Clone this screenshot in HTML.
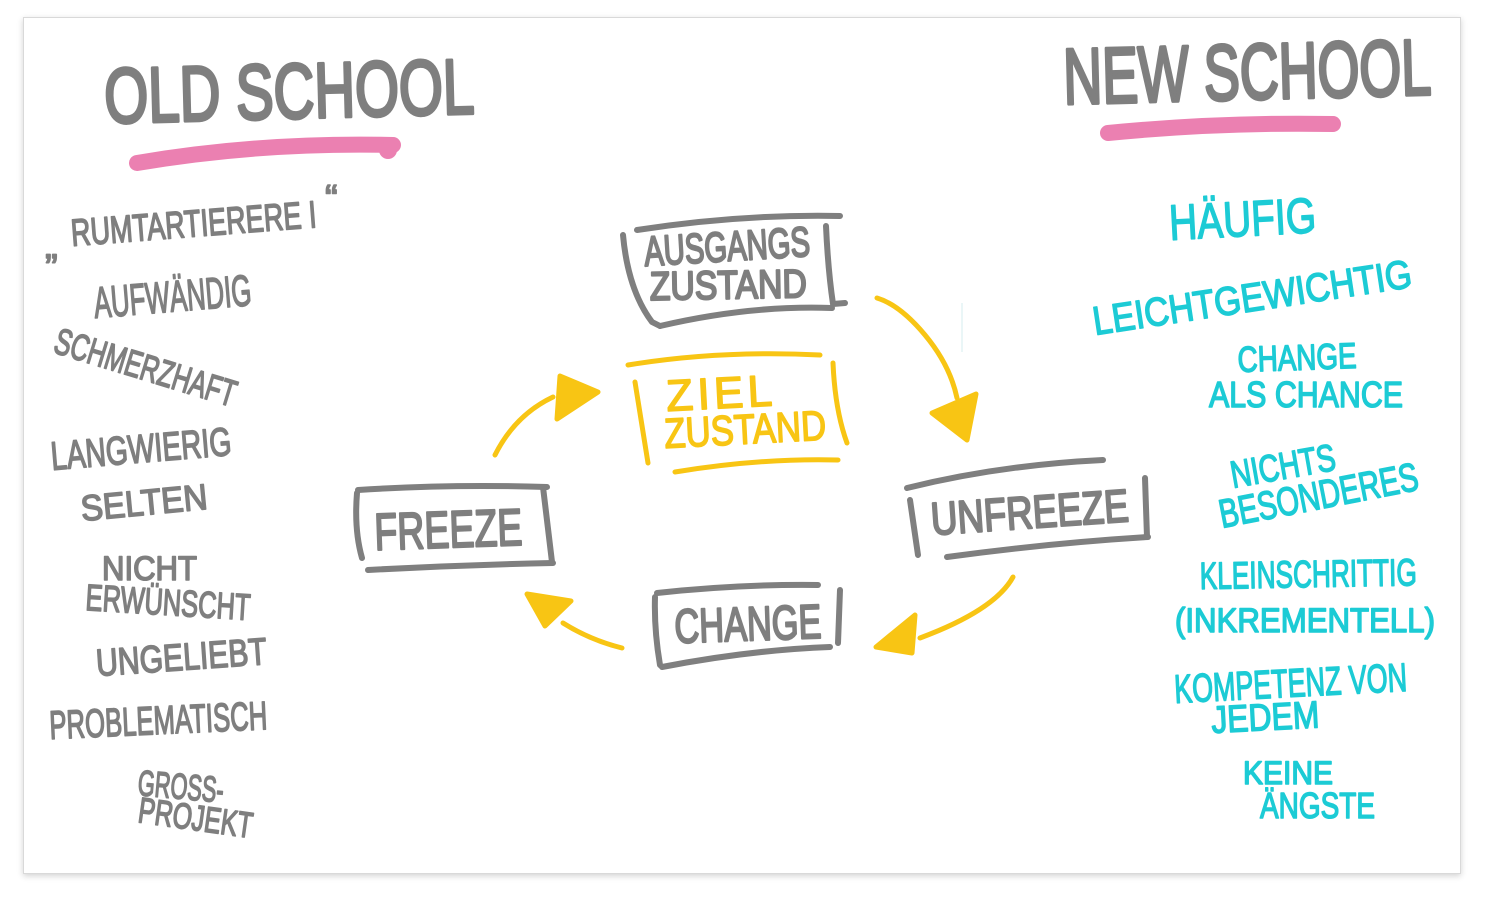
<!DOCTYPE html>
<html>
<head>
<meta charset="utf-8">
<style>
  html,body{margin:0;padding:0;background:#ffffff;}
  body{width:1492px;height:904px;position:relative;overflow:hidden;}
  .card{position:absolute;left:23px;top:17px;width:1436px;height:855px;background:#fff;border:1px solid #d9d9d9;box-shadow:0 2px 6px rgba(0,0,0,0.18);}
  svg{position:absolute;left:0;top:0;}
  text{font-family:"Liberation Sans",sans-serif;font-weight:normal;stroke-linejoin:round;stroke-linecap:round;}
  .g{fill:#7f7f7f;stroke:#7f7f7f;stroke-width:1.6;}
  .gh{fill:#7f7f7f;stroke:#7f7f7f;stroke-width:3.5;}
  .gb{fill:#7f7f7f;stroke:#7f7f7f;stroke-width:2.2;}
  .c{fill:#1ccbd5;stroke:#1ccbd5;stroke-width:1.5;}
  .y{fill:#f8c514;stroke:#f8c514;stroke-width:1.6;}
  .bx{fill:none;stroke:#7f7f7f;stroke-width:6;stroke-linecap:round;stroke-linejoin:round;}
  .yb{fill:none;stroke:#f8c514;stroke-width:5;stroke-linecap:round;stroke-linejoin:round;}
  .yh{fill:#f8c514;stroke:#f8c514;stroke-width:5;stroke-linejoin:round;}
  .pk{fill:none;stroke:#eb80b1;stroke-width:16;stroke-linecap:round;}
</style>
</head>
<body>
<div class="card"></div>
<svg width="1492" height="904" viewBox="0 0 1492 904" xmlns="http://www.w3.org/2000/svg">
  <!-- Headings -->
  <text class="gh" x="105" y="123" font-size="78" textLength="370" lengthAdjust="spacingAndGlyphs" transform="rotate(-1.5 105 123)">OLD SCHOOL</text>
  <path class="pk" d="M137,163 Q260,142 393,145"/>
  <circle cx="388" cy="150" r="9" fill="#eb80b1"/>

  <text class="gh" x="1064" y="104" font-size="79" textLength="368" lengthAdjust="spacingAndGlyphs" transform="rotate(-1.5 1064 104)">NEW SCHOOL</text>
  <path class="pk" d="M1108,133 Q1220,122 1333,124"/>

  <!-- Left list -->
  <text class="g" x="45" y="258" font-size="38">„</text>
  <text class="g" x="72" y="246" font-size="38" textLength="246" lengthAdjust="spacingAndGlyphs" transform="rotate(-4.4 72 246)">RUMTARTIERERE I</text>
  <text class="g" x="325" y="211" font-size="38">“</text>
  <text class="g" x="95" y="318" font-size="44" textLength="158" lengthAdjust="spacingAndGlyphs" transform="rotate(-4.7 95 318)">AUFWÄNDIG</text>
  <text class="g" x="52" y="352" font-size="37" textLength="188" lengthAdjust="spacingAndGlyphs" transform="rotate(17 52 352)">SCHMERZHAFT</text>
  <text class="g" x="52" y="470" font-size="40" textLength="181" lengthAdjust="spacingAndGlyphs" transform="rotate(-4.8 52 470)">LANGWIERIG</text>
  <text class="g" x="82" y="521" font-size="36" textLength="127" lengthAdjust="spacingAndGlyphs" transform="rotate(-5.5 82 521)">SELTEN</text>
  <text class="g" x="102" y="580" font-size="34" textLength="95" lengthAdjust="spacingAndGlyphs">NICHT</text>
  <text class="g" x="85" y="610" font-size="37" textLength="165" lengthAdjust="spacingAndGlyphs" transform="rotate(3.5 85 610)">ERWÜNSCHT</text>
  <text class="g" x="97" y="676" font-size="38" textLength="171" lengthAdjust="spacingAndGlyphs" transform="rotate(-4 97 676)">UNGELIEBT</text>
  <text class="g" x="50" y="739" font-size="40" textLength="218" lengthAdjust="spacingAndGlyphs" transform="rotate(-2.6 50 739)">PROBLEMATISCH</text>
  <text class="g" x="137" y="795" font-size="36" textLength="86" lengthAdjust="spacingAndGlyphs" transform="rotate(5 137 795)">GROSS-</text>
  <text class="g" x="137" y="822" font-size="36" textLength="115" lengthAdjust="spacingAndGlyphs" transform="rotate(8 137 822)">PROJEKT</text>

  <!-- Right list -->
  <text class="c" x="1170" y="240" font-size="50" textLength="147" lengthAdjust="spacingAndGlyphs" transform="rotate(-3 1170 240)">HÄUFIG</text>
  <text class="c" x="1095" y="335" font-size="40" textLength="322" lengthAdjust="spacingAndGlyphs" transform="rotate(-8.6 1095 335)">LEICHTGEWICHTIG</text>
  <text class="c" x="1238" y="372" font-size="36" textLength="119" lengthAdjust="spacingAndGlyphs" transform="rotate(-2 1238 372)">CHANGE</text>
  <text class="c" x="1209" y="407" font-size="36" textLength="194" lengthAdjust="spacingAndGlyphs">ALS CHANCE</text>
  <text class="c" x="1233" y="488" font-size="38" textLength="106" lengthAdjust="spacingAndGlyphs" transform="rotate(-10 1233 488)">NICHTS</text>
  <text class="c" x="1222" y="528" font-size="40" textLength="202" lengthAdjust="spacingAndGlyphs" transform="rotate(-11 1222 528)">BESONDERES</text>
  <text class="c" x="1200" y="589" font-size="38" textLength="217" lengthAdjust="spacingAndGlyphs" transform="rotate(-1 1200 589)">KLEINSCHRITTIG</text>
  <text class="c" x="1175" y="632" font-size="34" textLength="260" lengthAdjust="spacingAndGlyphs">(INKREMENTELL)</text>
  <text class="c" x="1175" y="703" font-size="40" textLength="233" lengthAdjust="spacingAndGlyphs" transform="rotate(-3 1175 703)">KOMPETENZ VON</text>
  <text class="c" x="1212" y="733" font-size="38" textLength="108" lengthAdjust="spacingAndGlyphs" transform="rotate(-3 1212 733)">JEDEM</text>
  <text class="c" x="1243" y="784" font-size="32" textLength="90" lengthAdjust="spacingAndGlyphs">KEINE</text>
  <text class="c" x="1260" y="818" font-size="36" textLength="115" lengthAdjust="spacingAndGlyphs">ÄNGSTE</text>

  <!-- AUSGANGS ZUSTAND box -->
  <path class="bx" d="M637,230 Q740,214 840,216"/>
  <path class="bx" d="M623,235 Q628,290 652,322 L660,326"/>
  <path class="bx" d="M660,326 Q750,305 832,308"/>
  <path class="bx" d="M826,226 Q828,270 833,304 L845,303"/>
  <text class="gb" x="645" y="266" font-size="42" textLength="166" lengthAdjust="spacingAndGlyphs" transform="rotate(-3.5 645 266)">AUSGANGS</text>
  <text class="gb" x="650" y="300" font-size="40" textLength="157" lengthAdjust="spacingAndGlyphs" transform="rotate(-1 650 300)">ZUSTAND</text>

  <!-- ZIEL ZUSTAND box -->
  <path class="yb" d="M628,365 Q720,350 820,355"/>
  <path class="yb" d="M635,382 L648,463"/>
  <path class="yb" d="M833,363 Q835,410 847,443"/>
  <path class="yb" d="M675,472 Q760,458 838,460"/>
  <text class="y" x="667" y="411" font-size="44" textLength="106" lengthAdjust="spacing" transform="rotate(-3 667 411)">ZIEL</text>
  <text class="y" x="665" y="448" font-size="42" textLength="162" lengthAdjust="spacingAndGlyphs" transform="rotate(-3 665 448)">ZUSTAND</text>

  <!-- FREEZE box -->
  <path class="bx" d="M358,490 Q450,484 547,487"/>
  <path class="bx" d="M357,493 Q354,530 362,558"/>
  <path class="bx" d="M543,487 L552,562"/>
  <path class="bx" d="M368,570 Q460,565 553,563"/>
  <text class="gb" x="375" y="550" font-size="52" textLength="148" lengthAdjust="spacingAndGlyphs" transform="rotate(-2 375 550)">FREEZE</text>

  <!-- UNFREEZE box -->
  <path class="bx" d="M907,488 Q1000,465 1103,460"/>
  <path class="bx" d="M910,500 L918,555"/>
  <path class="bx" d="M1145,478 L1147,537"/>
  <path class="bx" d="M947,557 Q1050,543 1148,537"/>
  <text class="gb" x="932" y="535" font-size="46" textLength="198" lengthAdjust="spacingAndGlyphs" transform="rotate(-4 932 535)">UNFREEZE</text>

  <!-- CHANGE box -->
  <path class="bx" d="M657,593 Q740,584 818,585"/>
  <path class="bx" d="M655,597 Q654,630 660,665"/>
  <path class="bx" d="M840,590 L838,643"/>
  <path class="bx" d="M662,667 Q750,650 830,647"/>
  <text class="gb" x="675" y="643" font-size="48" textLength="147" lengthAdjust="spacingAndGlyphs" transform="rotate(-2 675 643)">CHANGE</text>

  <!-- Arrows -->
  <path class="yb" d="M495,455 Q515,415 553,397"/>
  <polygon class="yh" points="560,376 598,392 557,419"/>

  <path class="yb" d="M877,298 Q900,305 925,335 Q950,365 957,398"/>
  <polygon class="yh" points="932,413 976,394 967,440"/>

  <path class="yb" d="M1013,577 Q995,610 920,638"/>
  <polygon class="yh" points="915,615 876,647 912,653"/>

  <path class="yb" d="M622,648 Q590,640 563,623"/>
  <polygon class="yh" points="527,594 571,601 545,626"/>

  <!-- faint guide line -->
  <line x1="962" y1="303" x2="962" y2="352" stroke="#d4ecef" stroke-width="1"/>
</svg>
</body>
</html>
